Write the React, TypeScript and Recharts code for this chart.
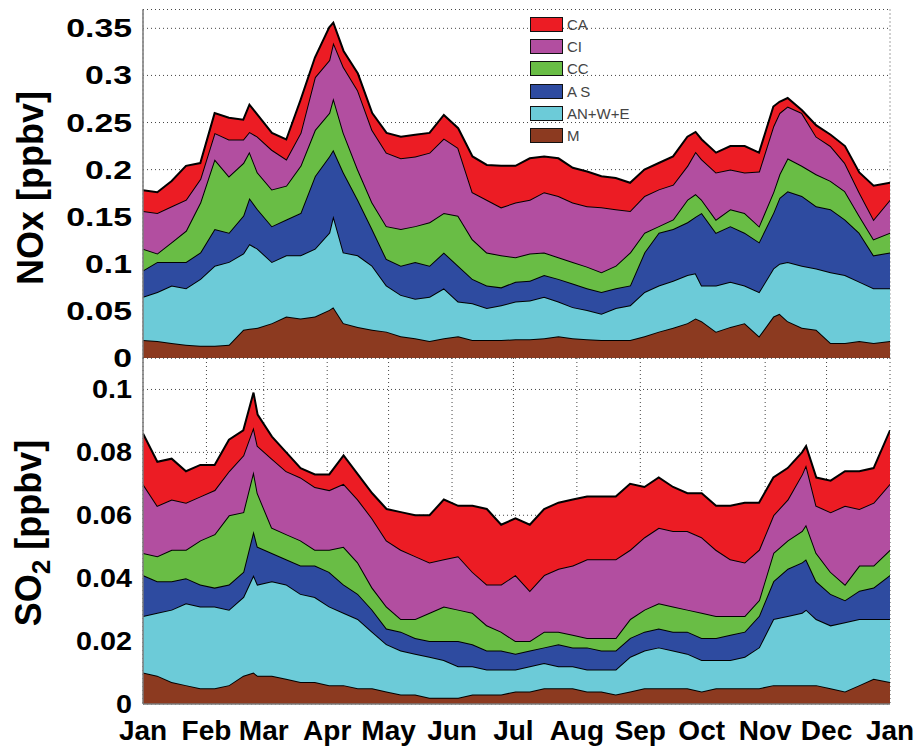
import { Area, AreaChart, CartesianGrid, Label, Legend, XAxis, YAxis } from 'recharts';

// day of year for month boundaries, Jan .. Jan
const MONTH_TICKS = [0, 31, 59, 90, 120, 151, 181, 212, 243, 273, 304, 334, 365];
const MONTH_LABELS = ['Jan', 'Feb', 'Mar', 'Apr', 'May', 'Jun', 'Jul', 'Aug', 'Sep', 'Oct', 'Nov', 'Dec', 'Jan'];

const NOX_TICKS = [0, 0.05, 0.1, 0.15, 0.2, 0.25, 0.3, 0.35];
const SO2_TICKS = [0, 0.02, 0.04, 0.06, 0.08, 0.1];

// legend, top to bottom
const LEGEND_NAMES = ['CA', 'CI', 'CC', 'A S', 'AN+W+E', 'M'];
const LEGEND_COLORS = ['#ec1c24', '#b24ea0', '#69bd45', '#2e4ba0', '#6ccbd8', '#8c3a20'];

// NOx: cumulative tops of each layer (ppbv)
const noxDays = [0, 7, 14, 21, 28, 35, 42, 49, 52, 56, 63, 70, 77, 84, 91, 93, 98, 105, 112, 119, 126, 133, 140, 147, 154, 161, 168, 175, 182, 189, 196, 203, 210, 217, 224, 231, 238, 245, 252, 259, 266, 270, 273, 280, 287, 294, 301, 308, 311, 315, 322, 329, 336, 343, 350, 357, 365];
const noxCA = [0.178, 0.176, 0.188, 0.204, 0.207, 0.26, 0.255, 0.253, 0.269, 0.258, 0.239, 0.232, 0.274, 0.319, 0.351, 0.356, 0.326, 0.302, 0.26, 0.239, 0.235, 0.237, 0.239, 0.258, 0.244, 0.214, 0.205, 0.204, 0.204, 0.212, 0.214, 0.212, 0.202, 0.198, 0.193, 0.191, 0.186, 0.2, 0.207, 0.214, 0.235, 0.24, 0.232, 0.218, 0.225, 0.225, 0.218, 0.267, 0.272, 0.276, 0.263, 0.247, 0.237, 0.225, 0.197, 0.183, 0.186];
const noxCI = [0.156, 0.154, 0.161, 0.168, 0.19, 0.239, 0.232, 0.232, 0.24, 0.235, 0.221, 0.211, 0.239, 0.298, 0.316, 0.335, 0.309, 0.284, 0.242, 0.218, 0.212, 0.214, 0.218, 0.233, 0.223, 0.176, 0.168, 0.16, 0.165, 0.168, 0.176, 0.172, 0.165, 0.161, 0.16, 0.158, 0.156, 0.172, 0.179, 0.184, 0.204, 0.219, 0.211, 0.197, 0.2, 0.197, 0.198, 0.246, 0.26, 0.267, 0.26, 0.235, 0.225, 0.207, 0.176, 0.147, 0.168];
const noxCC = [0.116, 0.111, 0.123, 0.135, 0.165, 0.211, 0.193, 0.207, 0.219, 0.197, 0.179, 0.183, 0.204, 0.242, 0.26, 0.276, 0.239, 0.2, 0.165, 0.14, 0.137, 0.14, 0.144, 0.154, 0.151, 0.126, 0.112, 0.109, 0.107, 0.111, 0.112, 0.107, 0.102, 0.097, 0.091, 0.098, 0.112, 0.133, 0.14, 0.147, 0.168, 0.174, 0.168, 0.147, 0.158, 0.154, 0.14, 0.176, 0.195, 0.212, 0.204, 0.195, 0.188, 0.177, 0.151, 0.126, 0.133];
const noxAS = [0.093, 0.102, 0.102, 0.102, 0.112, 0.137, 0.133, 0.151, 0.17, 0.158, 0.14, 0.147, 0.154, 0.193, 0.214, 0.221, 0.197, 0.168, 0.137, 0.105, 0.098, 0.102, 0.098, 0.112, 0.098, 0.084, 0.077, 0.075, 0.081, 0.082, 0.088, 0.084, 0.079, 0.074, 0.07, 0.074, 0.077, 0.112, 0.133, 0.137, 0.144, 0.15, 0.154, 0.133, 0.14, 0.133, 0.123, 0.154, 0.17, 0.177, 0.172, 0.161, 0.158, 0.147, 0.133, 0.109, 0.112];
const noxANWE = [0.065, 0.07, 0.077, 0.074, 0.084, 0.098, 0.102, 0.111, 0.121, 0.116, 0.102, 0.109, 0.109, 0.116, 0.133, 0.151, 0.112, 0.109, 0.098, 0.077, 0.067, 0.063, 0.065, 0.074, 0.06, 0.058, 0.053, 0.056, 0.06, 0.061, 0.065, 0.06, 0.054, 0.051, 0.047, 0.053, 0.056, 0.07, 0.077, 0.082, 0.088, 0.09, 0.077, 0.077, 0.081, 0.077, 0.07, 0.095, 0.1, 0.102, 0.098, 0.095, 0.091, 0.088, 0.081, 0.074, 0.074];
const noxM = [0.019, 0.018, 0.016, 0.014, 0.013, 0.013, 0.014, 0.03, 0.031, 0.032, 0.037, 0.044, 0.042, 0.044, 0.051, 0.054, 0.037, 0.033, 0.03, 0.028, 0.023, 0.021, 0.018, 0.021, 0.023, 0.019, 0.019, 0.019, 0.02, 0.02, 0.021, 0.023, 0.021, 0.02, 0.019, 0.019, 0.019, 0.023, 0.028, 0.032, 0.037, 0.042, 0.039, 0.028, 0.033, 0.037, 0.023, 0.044, 0.047, 0.039, 0.032, 0.03, 0.016, 0.016, 0.018, 0.016, 0.018];

// SO2: cumulative tops of each layer (ppbv)
const so2Days = [0, 7, 14, 21, 28, 35, 42, 49, 54, 56, 63, 70, 77, 84, 91, 98, 105, 112, 119, 126, 133, 140, 147, 154, 161, 168, 175, 182, 189, 196, 203, 210, 217, 224, 231, 238, 245, 252, 259, 266, 273, 280, 287, 294, 301, 308, 315, 322, 324, 329, 336, 343, 350, 357, 365];
const so2CA = [0.086, 0.077, 0.078, 0.074, 0.076, 0.076, 0.084, 0.087, 0.099, 0.092, 0.085, 0.08, 0.075, 0.073, 0.073, 0.079, 0.073, 0.067, 0.062, 0.061, 0.06, 0.06, 0.065, 0.063, 0.063, 0.062, 0.057, 0.059, 0.057, 0.062, 0.064, 0.065, 0.066, 0.066, 0.066, 0.07, 0.069, 0.072, 0.069, 0.067, 0.067, 0.063, 0.063, 0.064, 0.064, 0.072, 0.075, 0.08, 0.082, 0.072, 0.071, 0.074, 0.074, 0.075, 0.087];
const so2CI = [0.07, 0.063, 0.065, 0.064, 0.066, 0.068, 0.074, 0.079, 0.088, 0.082, 0.078, 0.074, 0.072, 0.069, 0.068, 0.07, 0.065, 0.059, 0.052, 0.049, 0.047, 0.045, 0.046, 0.047, 0.042, 0.038, 0.038, 0.041, 0.036, 0.041, 0.043, 0.044, 0.046, 0.046, 0.046, 0.049, 0.053, 0.056, 0.055, 0.055, 0.053, 0.049, 0.046, 0.045, 0.049, 0.06, 0.065, 0.073, 0.076, 0.063, 0.061, 0.063, 0.062, 0.064, 0.07];
const so2CC = [0.048, 0.047, 0.049, 0.049, 0.052, 0.054, 0.06, 0.061, 0.074, 0.067, 0.056, 0.054, 0.052, 0.049, 0.049, 0.05, 0.045, 0.037, 0.031, 0.027, 0.027, 0.029, 0.031, 0.03, 0.029, 0.025, 0.023, 0.02, 0.02, 0.023, 0.023, 0.022, 0.021, 0.021, 0.021, 0.027, 0.03, 0.032, 0.031, 0.03, 0.029, 0.028, 0.028, 0.028, 0.033, 0.048, 0.052, 0.055, 0.057, 0.048, 0.042, 0.038, 0.044, 0.044, 0.049];
const so2AS = [0.041, 0.039, 0.039, 0.04, 0.038, 0.037, 0.038, 0.042, 0.055, 0.05, 0.048, 0.046, 0.044, 0.044, 0.042, 0.038, 0.035, 0.03, 0.024, 0.023, 0.021, 0.02, 0.02, 0.02, 0.019, 0.017, 0.017, 0.016, 0.017, 0.018, 0.019, 0.018, 0.018, 0.017, 0.017, 0.021, 0.023, 0.024, 0.023, 0.023, 0.021, 0.021, 0.022, 0.023, 0.028, 0.039, 0.043, 0.045, 0.046, 0.039, 0.035, 0.033, 0.036, 0.037, 0.041];
const so2ANWE = [0.028, 0.029, 0.03, 0.032, 0.031, 0.031, 0.03, 0.034, 0.041, 0.038, 0.039, 0.038, 0.035, 0.034, 0.031, 0.029, 0.027, 0.023, 0.019, 0.017, 0.016, 0.015, 0.014, 0.012, 0.012, 0.011, 0.011, 0.011, 0.012, 0.013, 0.012, 0.012, 0.011, 0.011, 0.011, 0.015, 0.017, 0.018, 0.017, 0.016, 0.014, 0.014, 0.014, 0.015, 0.018, 0.027, 0.028, 0.029, 0.03, 0.027, 0.025, 0.026, 0.027, 0.027, 0.027];
const so2M = [0.01, 0.009, 0.007, 0.006, 0.005, 0.005, 0.006, 0.009, 0.01, 0.009, 0.009, 0.008, 0.007, 0.007, 0.006, 0.006, 0.005, 0.005, 0.004, 0.003, 0.003, 0.002, 0.002, 0.002, 0.003, 0.003, 0.003, 0.004, 0.004, 0.005, 0.005, 0.005, 0.004, 0.004, 0.003, 0.004, 0.005, 0.005, 0.005, 0.005, 0.004, 0.005, 0.005, 0.005, 0.005, 0.006, 0.006, 0.006, 0.006, 0.006, 0.005, 0.004, 0.006, 0.008, 0.007];

const FONT = '"Liberation Sans", Arial, Helvetica, sans-serif';
const AXIS_GRAY = '#7a7a7a';

// stacked layers bottom -> top
const STACK = [
  { key: 'M', color: '#8c3a20' },
  { key: 'ANWE', color: '#6ccbd8' },
  { key: 'AS', color: '#2e4ba0' },
  { key: 'CC', color: '#69bd45' },
  { key: 'CI', color: '#b24ea0' },
  { key: 'CA', color: '#ec1c24' },
];

function buildRows(days: number[], m: number[], anwe: number[], as: number[], cc: number[], ci: number[], ca: number[]) {
  return days.map((day, i) => ({
    day,
    M: m[i],
    ANWE: anwe[i] - m[i],
    AS: as[i] - anwe[i],
    CC: cc[i] - as[i],
    CI: ci[i] - cc[i],
    CA: ca[i] - ci[i],
  }));
}

const noxRows = buildRows(noxDays, noxM, noxANWE, noxAS, noxCC, noxCI, noxCA);
const so2Rows = buildRows(so2Days, so2M, so2ANWE, so2AS, so2CC, so2CI, so2CA);

function fmt(v: number) {
  return v === 0 ? '0' : String(v);
}

function makeYTick(sx: number) {
  return (p: any) => {
    const size = 25;
    return (
      <g transform={`translate(132,${p.y + size * 0.36}) scale(${sx},1)`}>
        <text x={0} y={0} textAnchor="end" fontFamily={FONT} fontWeight="bold" fontSize={size} fill="#000">
          {fmt(p.payload.value)}
        </text>
      </g>
    );
  };
}

function MonthTick(p: any) {
  const idx = MONTH_TICKS.indexOf(p.payload.value);
  return (
    <text x={p.x} y={p.y + 36} textAnchor="middle" fontFamily={FONT} fontWeight="bold" fontSize={28} fill="#000">
      {MONTH_LABELS[idx]}
    </text>
  );
}

function LegendBox() {
  return (
    <div style={{ display: 'flex', flexDirection: 'column' }}>
      {LEGEND_NAMES.map((name, i) => (
        <div key={name} style={{ display: 'flex', alignItems: 'center', height: 22.3 }}>
          <span
            style={{
              display: 'inline-block',
              width: 33,
              height: 15,
              background: LEGEND_COLORS[i],
              border: '1.5px solid #111',
              boxSizing: 'border-box',
            }}
          />
          <span style={{ marginLeft: 4, fontFamily: FONT, fontSize: 15, color: '#444', lineHeight: '15px' }}>{name}</span>
        </div>
      ))}
    </div>
  );
}

function renderLayers() {
  return STACK.map((s) => (
    <Area
      key={s.key}
      type="linear"
      dataKey={s.key}
      stackId="1"
      stroke="#000"
      strokeWidth={2}
      fill={s.color}
      fillOpacity={1}
      dot={false}
      activeDot={false}
      isAnimationActive={false}
    />
  ));
}

// box with inward ticks on top and right, like the original axes frame
function frame(yDomain: [number, number], yTicks: number[]) {
  return [
    <XAxis
      key="xt"
      xAxisId="top"
      orientation="top"
      type="number"
      dataKey="day"
      domain={[0, 365]}
      ticks={MONTH_TICKS}
      mirror
      tick={false}
      tickSize={6}
      tickLine={{ stroke: AXIS_GRAY }}
      axisLine={{ stroke: AXIS_GRAY, strokeWidth: 1.5 }}
      height={0}
      allowDataOverflow
    />,
    <XAxis
      key="xb"
      xAxisId="bm"
      orientation="bottom"
      type="number"
      dataKey="day"
      domain={[0, 365]}
      ticks={MONTH_TICKS}
      mirror
      tick={false}
      tickSize={6}
      tickLine={{ stroke: AXIS_GRAY }}
      axisLine={false}
      height={0}
      allowDataOverflow
    />,
    <YAxis
      key="yl"
      yAxisId="lm"
      orientation="left"
      type="number"
      domain={yDomain}
      ticks={yTicks}
      mirror
      tick={false}
      tickSize={6}
      tickLine={{ stroke: AXIS_GRAY }}
      axisLine={false}
      width={0}
      allowDataOverflow
    />,
    <YAxis
      key="yr"
      yAxisId="r"
      orientation="right"
      type="number"
      domain={yDomain}
      ticks={yTicks}
      mirror
      tick={false}
      tickSize={6}
      tickLine={{ stroke: AXIS_GRAY }}
      axisLine={{ stroke: AXIS_GRAY, strokeWidth: 1.5 }}
      width={0}
      allowDataOverflow
    />,
  ];
}

export default function App() {
  return (
    <div style={{ position: 'relative', width: 920, height: 747, background: '#fff' }}>
      <style>{'body{margin:0}'}</style>

      <div style={{ position: 'absolute', left: 0, top: 0 }}>
        <AreaChart width={920} height={376} data={noxRows} margin={{ top: 9.5, right: 30, bottom: 18, left: 0 }}>
          <CartesianGrid strokeDasharray="1 3" stroke="#444" />
          <XAxis
            type="number"
            dataKey="day"
            domain={[0, 365]}
            ticks={MONTH_TICKS}
            tick={false}
            tickLine={false}
            axisLine={{ stroke: AXIS_GRAY, strokeWidth: 1.5 }}
            height={0}
            allowDataOverflow
          />
          <YAxis
            type="number"
            domain={[0, 0.37]}
            ticks={NOX_TICKS}
            interval={0}
            width={143}
            tickSize={0}
            tickMargin={0}
            tickLine={false}
            axisLine={{ stroke: AXIS_GRAY, strokeWidth: 1.5 }}
            tick={makeYTick(1.35)}
            allowDataOverflow
          >
            <Label
              content={() => (
                <text
                  transform="translate(43,188) rotate(-90)"
                  textAnchor="middle"
                  fontFamily={FONT}
                  fontWeight="bold"
                  fontSize={36}
                  fill="#000"
                >
                  NOx [ppbv]
                </text>
              )}
            />
          </YAxis>
          {frame([0, 0.37], NOX_TICKS)}
          {renderLayers()}
          <Legend
            layout="vertical"
            align="center"
            verticalAlign="middle"
            content={() => <LegendBox />}
            wrapperStyle={{ top: 13, left: 530, width: 140, height: 134 }}
          />
        </AreaChart>
      </div>

      <div style={{ position: 'absolute', left: 0, top: 340 }}>
        <AreaChart width={920} height={407} data={so2Rows} margin={{ top: 18, right: 30, bottom: 0, left: 0 }}>
          <CartesianGrid strokeDasharray="1 3" stroke="#444" />
          <XAxis
            type="number"
            dataKey="day"
            domain={[0, 365]}
            ticks={MONTH_TICKS}
            interval={0}
            tickSize={0}
            tickMargin={0}
            tickLine={false}
            axisLine={{ stroke: AXIS_GRAY, strokeWidth: 1.5 }}
            tick={MonthTick}
            height={43}
            allowDataOverflow
          />
          <YAxis
            type="number"
            domain={[0, 0.11]}
            ticks={SO2_TICKS}
            interval={0}
            width={143}
            tickSize={0}
            tickMargin={0}
            tickLine={false}
            axisLine={{ stroke: AXIS_GRAY, strokeWidth: 1.5 }}
            tick={makeYTick(1.15)}
            allowDataOverflow
          >
            <Label
              content={() => (
                <text
                  transform="translate(41,193) rotate(-90)"
                  textAnchor="middle"
                  fontFamily={FONT}
                  fontWeight="bold"
                  fontSize={36}
                  fill="#000"
                >
                  SO
                  <tspan fontSize={26} dy={9}>2</tspan>
                  <tspan dy={-9}> [ppbv]</tspan>
                </text>
              )}
            />
          </YAxis>
          {frame([0, 0.11], SO2_TICKS)}
          {renderLayers()}
        </AreaChart>
      </div>
    </div>
  );
}
